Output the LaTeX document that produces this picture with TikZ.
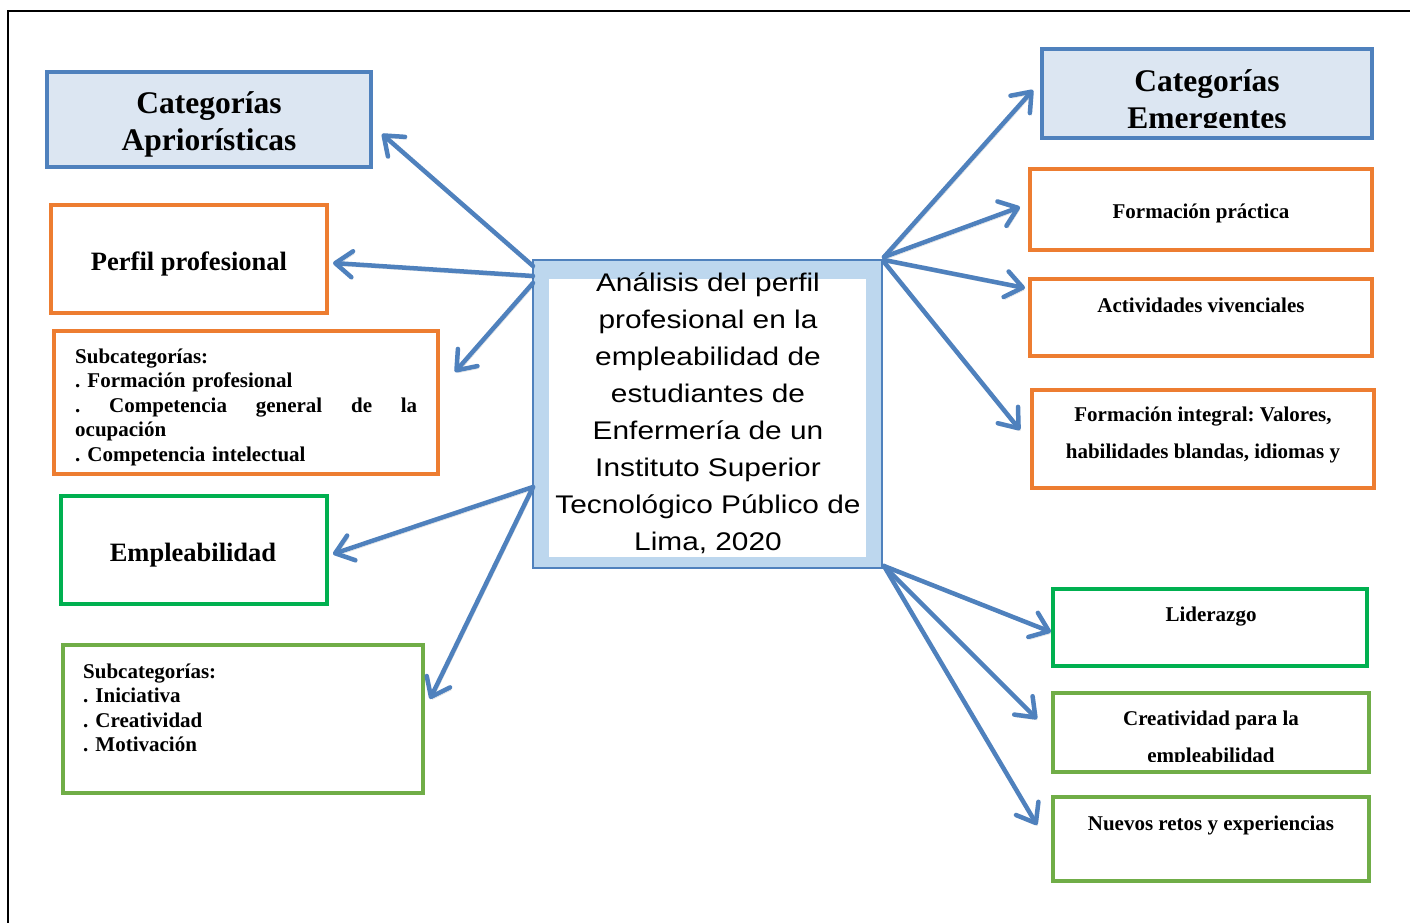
\documentclass[tikz,border=0pt]{standalone}
\usepackage{fontspec}
\setmainfont{Liberation Serif}
\newfontfamily\arialw[FakeStretch=1.17]{Liberation Sans}
\usetikzlibrary{arrows.meta}
\definecolor{blueb}{HTML}{4F81BD}
\definecolor{bluefill}{HTML}{DCE6F2}
\definecolor{bandblue}{HTML}{BDD7EE}
\definecolor{orangeb}{HTML}{ED7D31}
\definecolor{greenb}{HTML}{00B050}
\definecolor{lgreenb}{HTML}{70AD47}
\frenchspacing
\tikzset{
  box/.style={draw=#1, line width=4pt, inner sep=0pt, outer sep=0pt, anchor=north west},
  bluebox/.style={box=blueb, fill=bluefill, line width=4.5pt},
  bigt/.style={font=\bfseries\fontsize{31.5}{37}\selectfont, align=center, inner sep=0pt},
  midt/.style={font=\bfseries\fontsize{26.5}{30}\selectfont, inner sep=0pt},
  smallt/.style={font=\bfseries\fontsize{21}{24.5}\selectfont, inner sep=0pt},
  wide/.style={smallt, font=\bfseries\fontsize{21}{37}\selectfont, align=center},
  subt/.style={smallt, align=left, anchor=north west},
  arr/.style={draw=blueb, line width=4.5pt, line cap=round,
    -{Straight Barb[length=17pt,width=26pt,round]},
    preaction={draw=black, opacity=0.15, transform canvas={shift={(1.5pt,-2.5pt)}}}},
}
\begin{document}
\begin{tikzpicture}[x=1pt,y=-1pt]
\useasboundingbox (0,0) rectangle (1410,923);
\fill[white] (0,0) rectangle (1410,923);
\draw[line width=2.5pt] (8,940) -- (8,11) -- (1425,11);

% left boxes
\node[bluebox, minimum width=324pt, minimum height=95pt] (ca) at (47,72) {};
\node[bigt] (cat) at (209,124) {Categorías\\Apriorísticas};
\node[box=orangeb, minimum width=276pt, minimum height=108pt] (pp) at (51,205) {};
\node[midt] (ppt) at (189,264) {Perfil profesional};
\node[box=orangeb, minimum width=384pt, minimum height=143pt] (s1) at (54,331) {};
\node[subt, text width=342pt] (s1t) at (75,348.5) {Subcategorías:\\
. Formación profesional\\
\leavevmode\hbox to 342pt{.\hfill Competencia\hfill general\hfill de\hfill la}\\
ocupación\\
. Competencia intelectual};
\node[box=greenb, minimum width=266pt, minimum height=108pt] (em) at (61,496) {};
\node[midt] (emt) at (193,555) {Empleabilidad};
\node[box=lgreenb, minimum width=360pt, minimum height=148pt] (s2) at (63,645) {};
\node[subt, text width=300pt] (s2t) at (83,663.5) {Subcategorías:\\
. Iniciativa\\
. Creatividad\\
. Motivación};

% central
\node[draw=blueb, line width=1.2pt, fill=bandblue, minimum width=349pt, minimum height=308pt, inner sep=0pt, outer sep=0pt, anchor=north west] (c) at (533,260) {};
\node[fill=white, minimum width=317pt, minimum height=278pt, inner sep=0pt, outer sep=0pt, anchor=north west] (cin) at (549,279) {};
\node[font=\arialw\fontsize{25.5}{37}\selectfont, align=center, inner sep=0pt] (ct) at (708,413.5) {Análisis del perfil\\profesional en la\\empleabilidad de\\estudiantes de\\Enfermería de un\\Instituto Superior\\Tecnológico Público de\\Lima, 2020};

% right boxes
\node[bluebox, minimum width=330pt, minimum height=89pt] (ce) at (1042,49) {};
\begin{scope}
\clip (1044,52) rectangle (1370,128);
\node[bigt] (cet) at (1207,102.5) {Categorías\\Emergentes};
\end{scope}
\node[box=orangeb, minimum width=342pt, minimum height=81pt] (fp) at (1030,169) {};
\node[smallt] (fpt) at (1201,213) {Formación práctica};
\node[box=orangeb, minimum width=342pt, minimum height=77pt] (av) at (1030,279) {};
\node[smallt] (avt) at (1201,305) {Actividades vivenciales};
\node[box=orangeb, minimum width=342pt, minimum height=98pt] (fi) at (1032,390) {};
\node[wide] (fit) at (1203,435) {Formación integral: Valores,\\habilidades blandas, idiomas y};
\node[box=greenb, minimum width=314pt, minimum height=77pt] (li) at (1053,589) {};
\node[smallt] (lit) at (1211,617) {Liderazgo};
\node[box=lgreenb, minimum width=316pt, minimum height=79pt] (cr) at (1053,693) {};
\begin{scope}
\clip (1056,696) rectangle (1366,761);
\node[wide] (crt) at (1211,739) {Creatividad para la\\empleabilidad};
\end{scope}
\node[box=lgreenb, minimum width=316pt, minimum height=84pt] (nr) at (1053,797) {};
\node[smallt] (nrt) at (1211,825.5) {Nuevos retos y experiencias};

% arrow coordinates
\coordinate (l1) at (533,266);
\coordinate (l2) at (533,276);
\coordinate (l3) at (533,283);
\coordinate (l4) at (533,487);
\coordinate (r1) at (884,257);
\coordinate (r2) at (884,260);
\coordinate (r3) at (884,262);
\coordinate (r4) at (884,566);
\coordinate (eca) at (382,134);
\coordinate (epp) at (333,263);
\coordinate (es1) at (455,372);
\coordinate (eem) at (333,554);
\coordinate (es2) at (430,699);
\coordinate (ece) at (1033,90);
\coordinate (efp) at (1020,207);
\coordinate (eav) at (1025,288);
\coordinate (efi) at (1020,430);
\coordinate (eli) at (1051,632);
\coordinate (ecr) at (1037,719);
\coordinate (enr) at (1037,825);

\draw[arr] (l1) -- (eca);
\draw[arr] (l2) -- (epp);
\draw[arr] (l3) -- (es1);
\draw[arr] (l4) -- (eem);
\draw[arr] (l4) -- (es2);
\draw[arr] (r1) -- (ece);
\draw[arr] (r1) -- (efp);
\draw[arr] (r2) -- (eav);
\draw[arr] (r3) -- (efi);
\draw[arr] (r4) -- (eli);
\draw[arr] (r4) -- (ecr);
\draw[arr] (r4) -- (enr);
\end{tikzpicture}
\end{document}
